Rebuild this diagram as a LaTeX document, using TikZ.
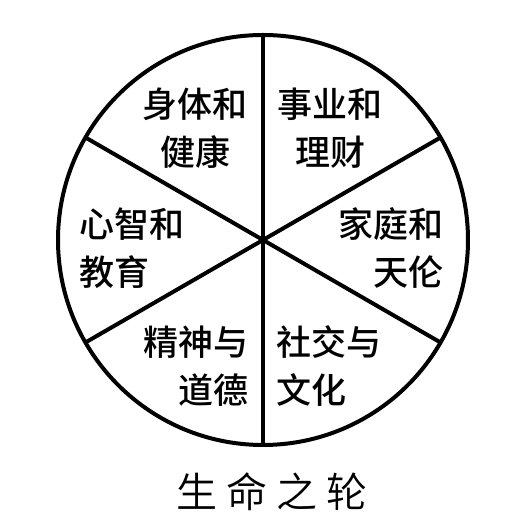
\documentclass[tikz,border=0pt]{standalone}
\usepackage{fontspec}
\usepackage{tikz}
\usetikzlibrary{positioning}
\newfontfamily\cjk{Noto Sans CJK SC Medium}
\newfontfamily\cjktitle[LetterSpace=22]{Noto Sans CJK SC DemiLight}
\tikzset{
  wheelline/.style={draw=black, line width=4pt},
  sector/.style={inner sep=0pt, font=\cjk\fontsize{35}{48}\selectfont},
  heading/.style={inner sep=0pt, font=\cjktitle\fontsize{41}{44}\selectfont}
}
\begin{document}
\begin{tikzpicture}[x=1pt,y=1pt]
  \useasboundingbox[fill=white] (0,0) rectangle (531,526);
  % the wheel and its six spokes
  \node[circle, wheelline, minimum size=410pt, outer sep=0pt, inner sep=0pt] (wheel) at (263,286) {};
  \draw[wheelline] (wheel.90) -- (wheel.270);
  \draw[wheelline] (wheel.150) -- (wheel.-30);
  \draw[wheelline] (wheel.30) -- (wheel.210);
  % sector labels
  \node[sector, align=center] (health) at (195,398) {身体和\\健康};
  \node[sector, align=center] (career) at (330,398) {事业和\\理财};
  \node[sector, align=left, anchor=west] (mind) at (79,278) {心智和\\教育};
  \node[sector, align=right, anchor=east] (family) at (444,278) {家庭和\\天伦};
  \node[sector, align=right, anchor=east] (spirit) at (249,160) {精神与\\道德};
  \node[sector, align=left, anchor=west] (social) at (276,160) {社交与\\文化};
  % title
  \node[heading] (title) at (272,34) {生命之轮};
\end{tikzpicture}
\end{document}
